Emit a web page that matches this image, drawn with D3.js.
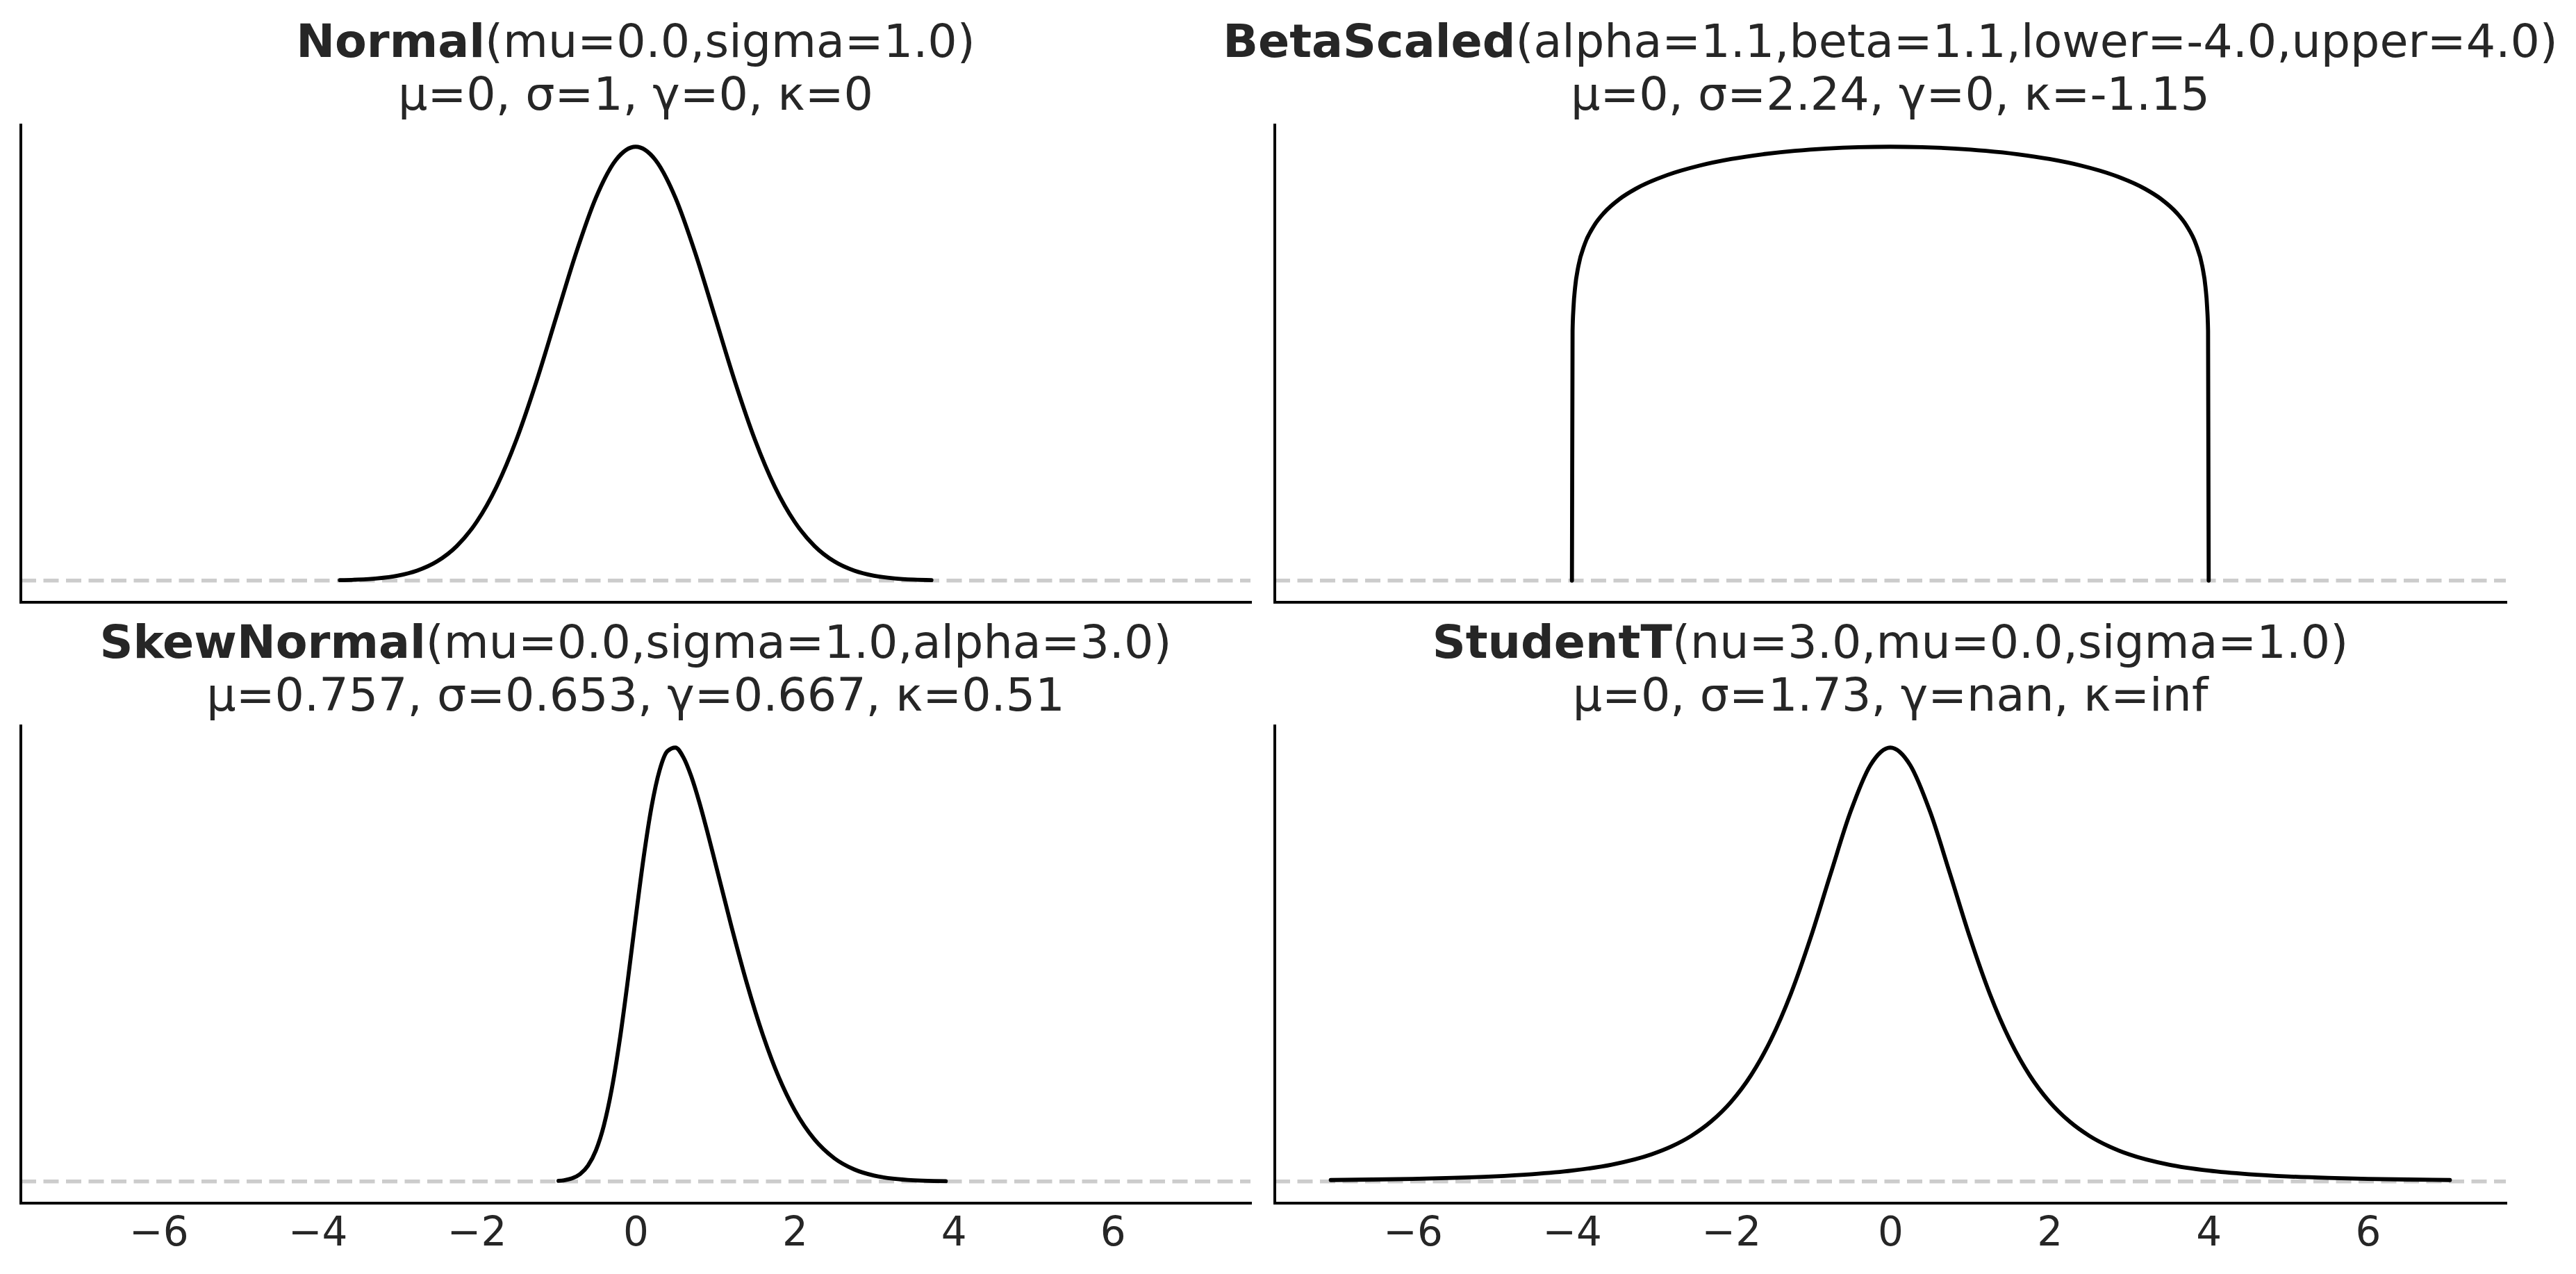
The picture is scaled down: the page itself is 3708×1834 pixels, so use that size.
<!DOCTYPE html>
<html>
<head>
<meta charset="utf-8">
<script src="https://cdn.jsdelivr.net/npm/d3@7/dist/d3.min.js"></script>
<style>
  html, body { margin: 0; padding: 0; background: #ffffff; }
  svg { display: block; }
</style>
</head>
<body>
<script>
// ---------------- DATA ----------------
const xTicks = [-6, -4, -2, 0, 2, 4, 6];
const xDomain = [-7.733, 7.733];

const titleNames = ["Normal", "BetaScaled", "SkewNormal", "StudentT"];
const titleParams = [
  "(mu=0.0,sigma=1.0)",
  "(alpha=1.1,beta=1.1,lower=-4.0,upper=4.0)",
  "(mu=0.0,sigma=1.0,alpha=3.0)",
  "(nu=3.0,mu=0.0,sigma=1.0)"
];
const titleStats = [
  "μ=0, σ=1, γ=0, κ=0",
  "μ=0, σ=2.24, γ=0, κ=-1.15",
  "μ=0.757, σ=0.653, γ=0.667, κ=0.51",
  "μ=0, σ=1.73, γ=nan, κ=inf"
];

const normalX = [-3.72, -3.5, -3.25, -3.0, -2.75, -2.5, -2.25, -2.0, -1.75, -1.5, -1.25, -1.0, -0.75, -0.5, -0.25, 0,
                 0.25, 0.5, 0.75, 1.0, 1.25, 1.5, 1.75, 2.0, 2.25, 2.5, 2.75, 3.0, 3.25, 3.5, 3.72];
const normalY = [0.00040, 0.00087, 0.00203, 0.00443, 0.00909, 0.01753, 0.03174, 0.05399, 0.08628, 0.12952, 0.18265, 0.24197, 0.30114, 0.35207, 0.38667, 0.39894,
                 0.38667, 0.35207, 0.30114, 0.24197, 0.18265, 0.12952, 0.08628, 0.05399, 0.03174, 0.01753, 0.00909, 0.00443, 0.00203, 0.00087, 0.00040];

const betaX = [-4.0, -3.992, -3.98, -3.96, -3.92, -3.84, -3.72, -3.6, -3.4, -3.2, -2.8, -2.4, -2.0, -1.6, -1.2, -0.8, -0.4, 0,
               0.4, 0.8, 1.2, 1.6, 2.0, 2.4, 2.8, 3.2, 3.4, 3.6, 3.72, 3.84, 3.92, 3.96, 3.98, 3.992, 4.0];
const betaY = [0, 0.07626, 0.08357, 0.08954, 0.09592, 0.10270, 0.10845, 0.11221, 0.11654, 0.11961, 0.12385, 0.12669, 0.12872, 0.13018, 0.13123, 0.13193, 0.13234, 0.13247,
               0.13234, 0.13193, 0.13123, 0.13018, 0.12872, 0.12669, 0.12385, 0.11961, 0.11654, 0.11221, 0.10845, 0.10270, 0.09592, 0.08954, 0.08357, 0.07626, 0];

const skewX = [-0.97, -0.9, -0.8, -0.7, -0.6, -0.5, -0.4, -0.3, -0.2, -0.1, 0, 0.1, 0.2, 0.3, 0.4, 0.5, 0.6, 0.7, 0.8, 0.9, 1.0,
               1.2, 1.4, 1.6, 1.8, 2.0, 2.25, 2.5, 2.75, 3.0, 3.25, 3.5, 3.75, 3.9];
const skewY = [0.00090, 0.00185, 0.00475, 0.01116, 0.02395, 0.04704, 0.08475, 0.14040, 0.21449, 0.30334, 0.39894, 0.49056, 0.56759, 0.62239, 0.65179, 0.65710, 0.64249, 0.61335, 0.57463, 0.53033, 0.48329,
               0.38832, 0.29946, 0.22184, 0.15790, 0.10798, 0.06348, 0.03506, 0.01818, 0.00886, 0.00406, 0.00175, 0.00071, 0.00040];

const studentX = [-7.03, -6.5, -6.0, -5.5, -5.0, -4.5, -4.0, -3.5, -3.0, -2.75, -2.5, -2.25, -2.0, -1.75, -1.5, -1.25, -1.0, -0.75, -0.5, -0.25, 0,
                  0.25, 0.5, 0.75, 1.0, 1.25, 1.5, 1.75, 2.0, 2.25, 2.5, 2.75, 3.0, 3.5, 4.0, 4.5, 5.0, 5.5, 6.0, 6.5, 7.03];
const studentY = [0.00120, 0.00162, 0.00217, 0.00299, 0.00422, 0.00612, 0.00916, 0.01422, 0.02297, 0.02965, 0.03866, 0.05089, 0.06751, 0.09000, 0.12002, 0.15891, 0.20675, 0.26065, 0.31318, 0.35270, 0.36755,
                  0.35270, 0.31318, 0.26065, 0.20675, 0.15891, 0.12002, 0.09000, 0.06751, 0.05089, 0.03866, 0.02965, 0.02297, 0.01422, 0.00916, 0.00612, 0.00422, 0.00299, 0.00217, 0.00162, 0.00120];

// ---------------- LAYOUT ----------------
const W = 3708, H = 1834;
const colX = [[30, 1800], [1835, 3607]];
const rowY = [[180, 867], [1045, 1732]];
const textColor = "#262626";
const fontFamily = "DejaVu Sans, sans-serif";

const panels = [
  { name: titleNames[0], params: titleParams[0], stats: titleStats[0], xs: normalX, ys: normalY, col: 0, row: 0 },
  { name: titleNames[1], params: titleParams[1], stats: titleStats[1], xs: betaX, ys: betaY, col: 1, row: 0 },
  { name: titleNames[2], params: titleParams[2], stats: titleStats[2], xs: skewX, ys: skewY, col: 0, row: 1 },
  { name: titleNames[3], params: titleParams[3], stats: titleStats[3], xs: studentX, ys: studentY, col: 1, row: 1 }
];

const svg = d3.select("body").append("svg")
  .attr("width", W).attr("height", H)
  .attr("viewBox", `0 0 ${W} ${H}`);
svg.append("rect").attr("width", W).attr("height", H).attr("fill", "#ffffff");

panels.forEach(p => {
  const [x0, x1] = colX[p.col];
  const [y0, y1] = rowY[p.row];
  const ymax = d3.max(p.ys);
  const x = d3.scaleLinear().domain(xDomain).range([x0, x1]);
  const y = d3.scaleLinear().domain([-0.05 * ymax, 1.05 * ymax]).range([y1, y0]);

  const g = svg.append("g");

  // reference dashed line at zero
  g.append("line")
    .attr("x1", x0).attr("x2", x1)
    .attr("y1", y(0)).attr("y2", y(0))
    .attr("stroke", "#cccccc")
    .attr("stroke-width", 5.5)
    .attr("stroke-dasharray", "22,10.5");

  // density curve
  const pts = p.xs.map((v, i) => [v, p.ys[i]]);
  const line = d3.line()
    .x(d => x(d[0]))
    .y(d => y(d[1]))
    .curve(d3.curveMonotoneX);
  g.append("path")
    .attr("d", line(pts))
    .attr("fill", "none")
    .attr("stroke", "#000000")
    .attr("stroke-width", 5.8)
    .attr("stroke-linecap", "round")
    .attr("stroke-linejoin", "round");

  // spines (left + bottom)
  g.append("line")
    .attr("x1", x0).attr("x2", x0).attr("y1", y0).attr("y2", y1)
    .attr("stroke", "#000000").attr("stroke-width", 4).attr("stroke-linecap", "square");
  g.append("line")
    .attr("x1", x0).attr("x2", x1).attr("y1", y1).attr("y2", y1)
    .attr("stroke", "#000000").attr("stroke-width", 4).attr("stroke-linecap", "square");

  // x tick labels on bottom row only
  if (p.row === 1) {
    const axis = d3.axisBottom(x)
      .tickValues(xTicks)
      .tickSize(0)
      .tickPadding(0)
      .tickFormat(d => (d < 0 ? "\u2212" + Math.abs(d) : String(d)));
    const ag = g.append("g")
      .attr("transform", `translate(0,${y1})`)
      .call(axis);
    ag.select(".domain").remove();
    ag.selectAll("text")
      .attr("dy", null)
      .attr("y", 61)
      .attr("fill", textColor)
      .attr("font-family", fontFamily)
      .attr("font-size", 58)
      .attr("dominant-baseline", "alphabetic");
  }

  // title (two lines)
  const cx = (x0 + x1) / 2;
  const t1 = g.append("text")
    .attr("x", cx).attr("y", y0 - 98)
    .attr("text-anchor", "middle")
    .attr("font-family", fontFamily)
    .attr("font-size", 66.7)
    .attr("fill", textColor);
  t1.append("tspan").attr("font-weight", "bold").text(p.name);
  t1.append("tspan").text(p.params);

  g.append("text")
    .attr("x", cx).attr("y", y0 - 22)
    .attr("text-anchor", "middle")
    .attr("font-family", fontFamily)
    .attr("font-size", 66.7)
    .attr("fill", textColor)
    .text(p.stats);
});
</script>
</body>
</html>
